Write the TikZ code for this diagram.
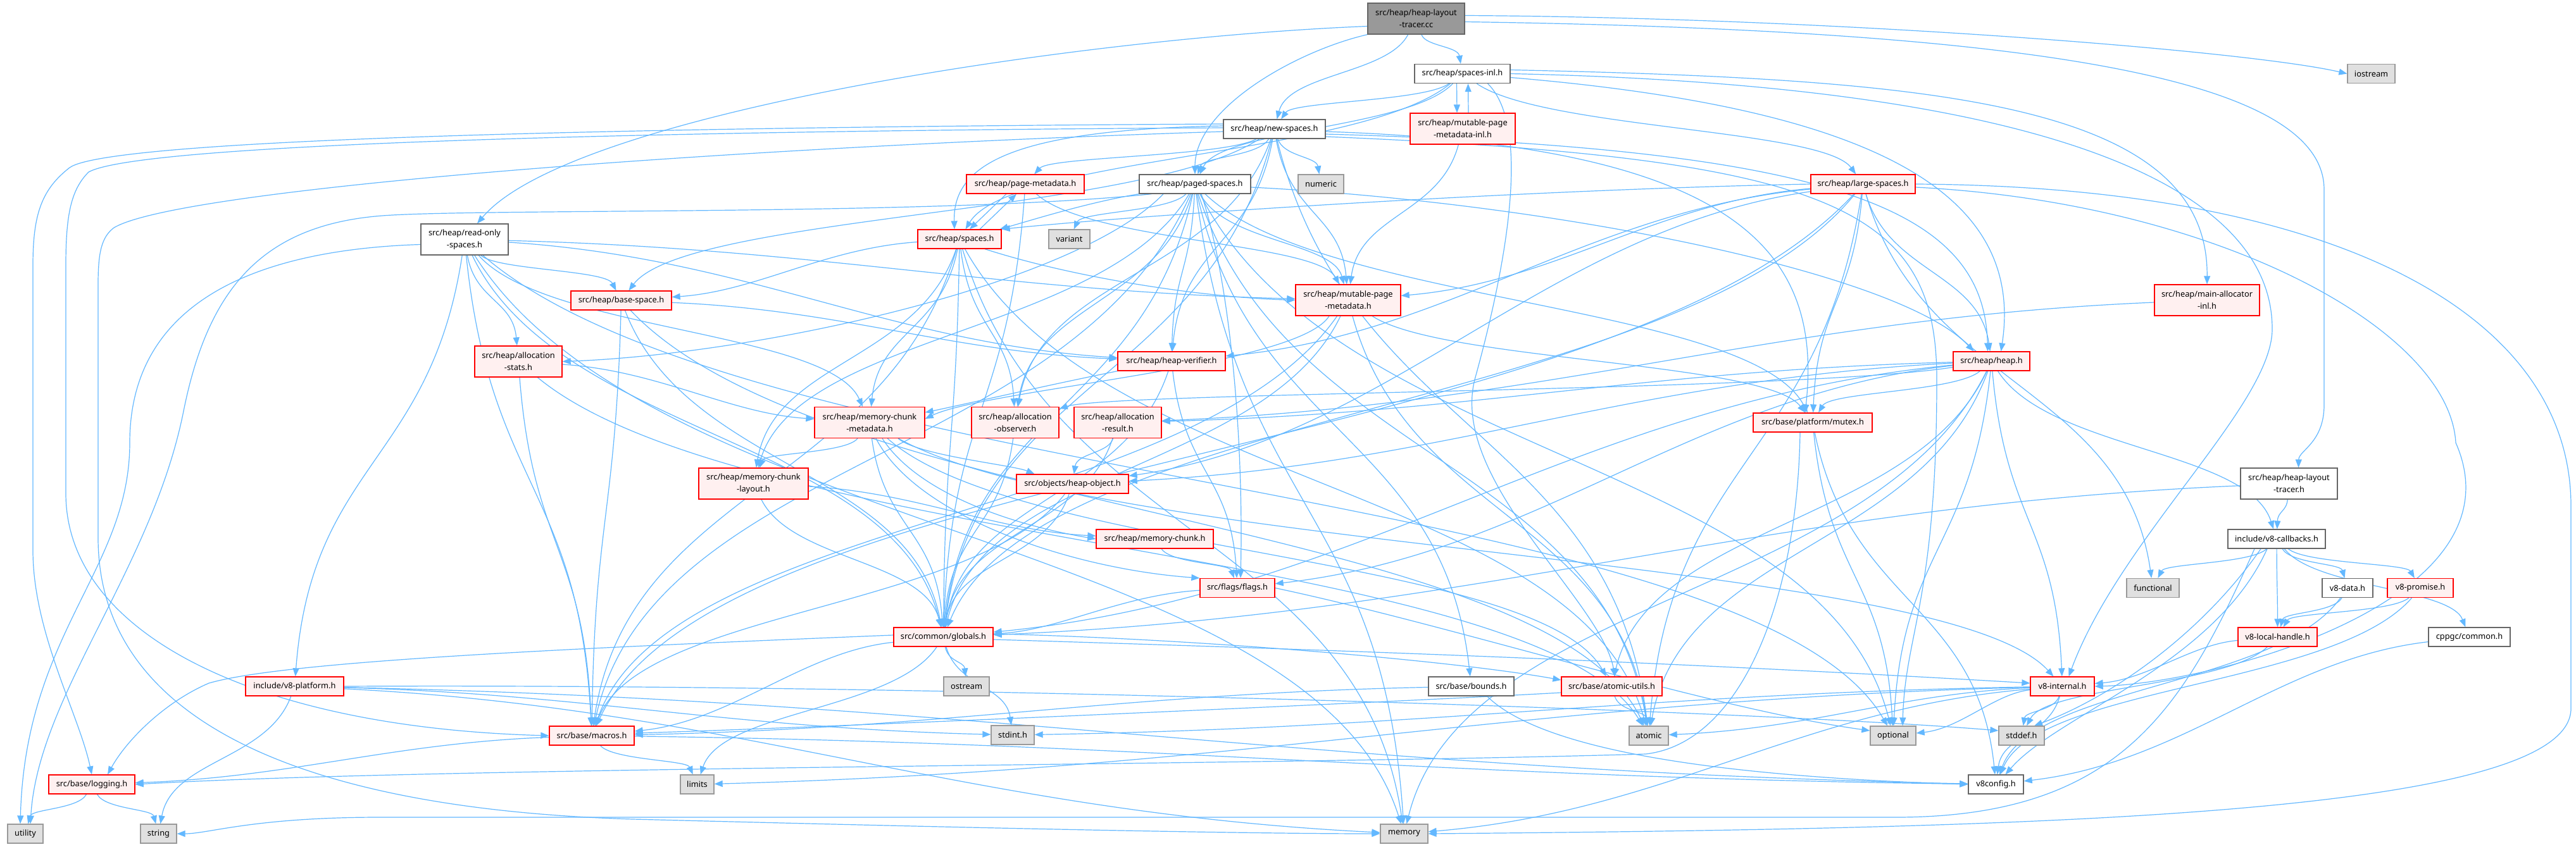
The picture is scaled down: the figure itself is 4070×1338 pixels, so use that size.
\documentclass[tikz,border=0pt]{standalone}
\usepackage{fontspec}
\setmainfont{Noto Sans}
\usetikzlibrary{arrows.meta}
\definecolor{edgeblue}{HTML}{63B8FF}
\definecolor{nred}{HTML}{FF0000}
\definecolor{nredfill}{HTML}{FFF0F0}
\definecolor{ngray}{HTML}{999999}
\definecolor{ngrayfill}{HTML}{E0E0E0}
\definecolor{ndark}{HTML}{666666}
\definecolor{nroot}{HTML}{999999}
\pgfdeclarelayer{bglayer}
\pgfdeclarelayer{edgelayer}
\pgfsetlayers{bglayer,edgelayer,main}
\newdimen\EXa \newdimen\EYa \newdimen\EXb \newdimen\EYb
\newdimen\EDx \newdimen\EDy \newdimen\EAx \newdimen\EAy
\newdimen\ECxa \newdimen\ECya \newdimen\ECxb \newdimen\ECyb
\newif\ifEhoriz
\newcount\Emode
\makeatletter
\newcommand\edcore[3]{%
  \pgfpointanchor{#2}{center}\EXa=\pgf@x \EYa=\pgf@y
  \pgfpointanchor{#3}{center}\EXb=\pgf@x \EYb=\pgf@y
  \EDx=\EXb \advance\EDx by -\EXa
  \EDy=\EYa \advance\EDy by -\EYb
  \EAx=\EDx \ifdim\EAx<0pt \EAx=-\EAx\fi
  \EAy=\EDy \ifdim\EAy<0pt \EAy=-\EAy\fi
  \EAy=3\EAy
  \Ehorizfalse
  \ifdim\EAx>\EAy \Ehoriztrue\fi
  \ifnum\Emode=1 \Ehorizfalse\fi
  \ifnum\Emode=2 \Ehoriztrue\fi
  \ifEhoriz
    \ECxa=\EXa \advance\ECxa by 0.4\EDx
    \ECya=\EYa \advance\ECya by -0.15\EDy
    \ECxb=\EXb \advance\ECxb by -0.4\EDx
    \ECyb=\EYb \advance\ECyb by 0.15\EDy
  \else
    \ECxa=\EXa \advance\ECxa by 0.2\EDx
    \ECya=\EYa \advance\ECya by -0.5\EDy
    \ECxb=\EXb \advance\ECxb by -0.1\EDx
    \ECyb=\EYb \advance\ECyb by 0.5\EDy
  \fi
  \draw[e,#1] (#2) .. controls (\the\ECxa,\the\ECya) and (\the\ECxb,\the\ECyb) .. (#3);%
}
\makeatother
\newcommand\ed[3][]{\Emode=0 \edcore{#1}{#2}{#3}}
\newcommand\edv[3][]{\Emode=1 \edcore{#1}{#2}{#3}}
\newcommand\edh[3][]{\Emode=2 \edcore{#1}{#2}{#3}}
\tikzset{
  nbase/.style={rectangle, inner sep=0pt, align=center, font=\fontsize{12.8}{19}\selectfont, minimum height=30pt, line width=1.3pt},
  rn/.style={nbase, draw=nred, fill=nredfill},
  wn/.style={nbase, draw=ndark, fill=white},
  gn/.style={nbase, draw=ngray, fill=ngrayfill},
  rootn/.style={nbase, draw=ndark, fill=nroot},
  tall/.style={minimum height=49pt},
  e/.style={draw=edgeblue, line width=1.2pt, -{Triangle[length=13pt,width=10pt]}},
}
\begin{document}
\begin{tikzpicture}[x=1pt,y=1pt]
\useasboundingbox (0,0) rectangle (4070,-1338);
\begin{pgfonlayer}{bglayer}
\fill[white] (0,0) rectangle (4070,-1338);
\end{pgfonlayer}
% ---------------- nodes ----------------
\node[rootn,tall,minimum width=153pt] (cc) at (2237.5,-29.5) {src/heap/heap-layout\\-tracer.cc};
\node[wn,minimum width=151pt] (si) at (2310.5,-116.5) {src/heap/spaces-inl.h};
\node[gn,minimum width=75pt] (ios) at (3746.5,-116.5) {iostream};
\node[wn,minimum width=161pt] (ns) at (2013.5,-204) {src/heap/new-spaces.h};
\node[rn,tall,minimum width=166pt] (mi) at (2311,-203.5) {src/heap/mutable-page\\-metadata-inl.h};
\node[wn,tall,minimum width=138pt] (ro) at (734,-378.5) {src/heap/read-only\\-spaces.h};
\node[rn,minimum width=186pt] (pm) at (1620,-291) {src/heap/page-metadata.h};
\node[wn,minimum width=176pt] (ps) at (1888,-291) {src/heap/paged-spaces.h};
\node[gn,minimum width=72pt] (num) at (2087,-291) {numeric};
\node[rn,minimum width=165pt] (lr) at (2943.5,-291) {src/heap/large-spaces.h};
\node[rn,minimum width=132pt] (sp) at (1516,-378) {src/heap/spaces.h};
\node[gn,minimum width=65pt] (var) at (1689.5,-378) {variant};
\node[rn,minimum width=159pt] (bs) at (981.5,-475) {src/heap/base-space.h};
\node[rn,tall,minimum width=166pt] (mpm) at (2130,-474.5) {src/heap/mutable-page\\-metadata.h};
\node[rn,tall,minimum width=166pt] (ma) at (3487,-474.5) {src/heap/main-allocator\\-inl.h};
\node[rn,tall,minimum width=138pt] (ast) at (819,-571.5) {src/heap/allocation\\-stats.h};
\node[rn,minimum width=170pt] (hv) at (1851,-571) {src/heap/heap-verifier.h};
\node[rn,minimum width=121pt] (hp) at (3146.5,-571) {src/heap/heap.h};
\node[rn,tall,minimum width=174pt] (mcm) at (1374,-668) {src/heap/memory-chunk\\-metadata.h};
\node[rn,tall,minimum width=138pt] (ao) at (1604,-668) {src/heap/allocation\\-observer.h};
\node[rn,tall,minimum width=138pt] (ar) at (1766,-668) {src/heap/allocation\\-result.h};
\node[rn,minimum width=188pt] (mx) at (2864,-668) {src/base/platform/mutex.h};
\node[rn,tall,minimum width=173pt] (mcl) at (1190.5,-764.5) {src/heap/memory-chunk\\-layout.h};
\node[rn,minimum width=177pt] (ho) at (1694.5,-765) {src/objects/heap-object.h};
\node[wn,tall,minimum width=153pt] (lh) at (3616.5,-764.5) {src/heap/heap-layout\\-tracer.h};
\node[wn,minimum width=154pt] (cb) at (3597,-852) {include/v8-callbacks.h};
\node[rn,minimum width=185pt] (mc) at (1824.5,-852) {src/heap/memory-chunk.h};
\node[rn,minimum width=118pt] (fl) at (1955,-929.5) {src/flags/flags.h};
\node[gn,minimum width=83pt] (fn) at (3401.5,-929.5) {functional};
\node[wn,minimum width=80pt] (vd) at (3709,-929.5) {v8-data.h};
\node[rn,minimum width=104pt] (vp) at (3824,-929.5) {v8-promise.h};
\node[rn,minimum width=157pt] (gl) at (1490.5,-1007) {src/common/globals.h};
\node[gn,minimum width=72pt] (os) at (1527,-1085) {ostream};
\node[rn,minimum width=125pt] (vl) at (3598.5,-1007) {v8-local-handle.h};
\node[wn,minimum width=129pt] (cg) at (3901.5,-1007) {cppgc/common.h};
\node[rn,minimum width=155pt] (vpl) at (465.5,-1085) {include/v8-platform.h};
\node[wn,minimum width=135pt] (bd) at (2324.5,-1085) {src/base/bounds.h};
\node[rn,minimum width=159pt] (au) at (2546.5,-1085) {src/base/atomic-utils.h};
\node[rn,minimum width=101pt] (vi) at (3258.5,-1085) {v8-internal.h};
\node[rn,minimum width=134pt] (mac) at (935,-1163) {src/base/macros.h};
\node[gn,minimum width=68pt] (si8) at (1600,-1162) {stdint.h};
\node[gn,minimum width=62pt] (atm) at (2605,-1163) {atomic};
\node[gn,minimum width=72pt] (op) at (2991,-1163) {optional};
\node[gn,minimum width=72pt] (sd) at (3194,-1163) {stddef.h};
\node[rn,minimum width=136pt] (lg) at (145,-1240) {src/base/logging.h};
\node[gn,minimum width=53pt] (lim) at (1101.5,-1240) {limits};
\node[wn,minimum width=87pt] (vc) at (3153.5,-1240) {v8config.h};
\node[gn,minimum width=56pt] (ut) at (40,-1318) {utility};
\node[gn,minimum width=57pt] (str) at (250.5,-1318) {string};
\node[gn,minimum width=75pt] (mem) at (2218.5,-1318) {memory};
% ---------------- edges ----------------
\begin{pgfonlayer}{edgelayer}
% heap-layout-tracer.cc
\ed{cc}{si}
\ed{cc}{ns}
\draw[e] ([yshift=5pt]cc.east) .. controls (2900,-28) and (3550,-80) .. (ios.west);
\draw[e] ([yshift=-5pt]cc.east) .. controls (3250,-48) and (3672,-130) .. (3672,-300) -- (3672,-640) .. controls (3672,-700) and (3632,-712) .. ([xshift=15pt]lh.north);
\draw[e] ([yshift=-12pt]cc.west) .. controls (1700,-60) and (900,-180) .. ([xshift=20pt]ro.north);
\draw[e] (cc.south west) .. controls (2050,-80) and (1888,-170) .. (ps.north);
% spaces-inl.h
\draw[e] ([xshift=-9pt]si.south) -- ([xshift=-9pt]mi.north);
\draw[e] ([xshift=9pt]mi.north) -- ([xshift=9pt]si.south);
\edv{si}{ns}
\edv{si}{ps}
\edv{si}{sp}
\edv{si}{lr}
\draw[e] ([xshift=40pt]si.south) .. controls (2420,-200) and (2380,-420) .. (2330,-600) .. controls (2290,-760) and (2530,-950) .. ([xshift=5pt]au.north);
\draw[e] ([yshift=-6pt]si.east) .. controls (2950,-170) and (3200,-300) .. ([xshift=15pt]hp.north);
\draw[e] ([yshift=6pt]si.east) .. controls (3050,-125) and (3490,-160) .. (ma.north);
\draw[e] (si.east) .. controls (3250,-135) and (3590,-300) .. (3590,-520) .. controls (3590,-640) and (3350,-850) .. ([xshift=10pt]vi.north);
% mutable-page-metadata-inl.h
\ed{mi}{mpm}
% new-spaces.h
\edv{ns}{ps}
\edv{ns}{pm}
\edv{ns}{num}
\edv{ns}{bs}
\ed{ns}{atm}
\ed{ns}{gl}
\ed{ns}{ao}
\ed{ns}{hv}
\ed{ns}{mpm}
\draw[e] ([yshift=5pt]ns.west) .. controls (1600,-205) and (1505,-260) .. ([xshift=-8pt]sp.north);
\draw[e] ([yshift=-8pt]ns.east) .. controls (2900,-235) and (3135,-330) .. ([xshift=-6pt]hp.north);
\draw[e] ([yshift=-4pt]ns.east) .. controls (2750,-230) and (2880,-400) .. ([xshift=-12pt]mx.north);
\draw[e] ([yshift=-12pt]ns.east) .. controls (2900,-250) and (3060,-330) .. (3060,-600) .. controls (3060,-950) and (3010,-1000) .. ([xshift=15pt]op.north);
\draw[e] ([yshift=8pt]ns.west) .. controls (1200,-200) and (180,-214) .. (110,-265) .. controls (65,-300) and (52,-340) .. (52,-420) -- (52,-870) .. controls (52,-1000) and (125,-1130) .. (lg.north);
\draw[e] ([yshift=2pt]ns.west) .. controls (1200,-206) and (230,-222) .. (140,-272) .. controls (112,-300) and (104,-340) .. (104,-420) -- (104,-780) .. controls (104,-1000) and (400,-1150) .. (mac.west);
\draw[e] ([yshift=-4pt]ns.west) .. controls (1100,-235) and (280,-300) .. (180,-360) .. controls (160,-375) and (155,-400) .. (155,-450) -- (155,-850) .. controls (155,-1150) and (500,-1280) .. (1000,-1295) .. controls (1500,-1308) and (1950,-1318) .. (mem.west);
% paged-spaces.h
\draw[e] (ps.south west) .. controls (1720,-320) and (1640,-345) .. ([xshift=-3pt]sp.north east);
\ed{ps}{var}
\draw[e] ([yshift=-5pt]ps.east) .. controls (2450,-320) and (3000,-430) .. ([xshift=-28pt]hp.north);
\ed{ps}{mpm}
\ed{ps}{hv}
\ed{ps}{ao}
\draw[e] ([xshift=-50pt]ps.south) .. controls (1700,-450) and (1200,-560) .. (ast.east);
\ed{ps}{mx}
\ed{ps}{mem}
\draw[e] ([xshift=10pt]ps.south) .. controls (1945,-450) and (1965,-700) .. ([xshift=5pt]fl.north);
\ed{ps}{atm}
\ed{ps}{op}
\ed{ps}{gl}
\ed{ps}{mac}
\ed{ps}{mcl}
\ed{ps}{bd}
\draw[e] ([xshift=20pt]ps.south west) .. controls (1500,-340) and (800,-330) .. (620,-340) .. controls (420,-350) and (330,-450) .. (290,-650) .. controls (240,-900) and (60,-1100) .. ([xshift=8pt]ut.north);
% large-spaces.h
\draw[e] (lr.west) .. controls (2400,-300) and (1800,-340) .. (sp.north east);
\ed{lr}{mpm}
\ed{lr}{hp}
\ed{lr}{mx}
\ed{lr}{fn}
\ed{lr}{atm}
\ed{lr}{gl}
\ed{lr}{mac}
\ed{lr}{hv}
\edh{lr}{ho}
\draw[e] ([yshift=-5pt]lr.east) .. controls (3500,-320) and (3870,-520) .. (3880,-700) .. controls (3990,-950) and (3500,-1080) .. (vi.east);
\draw[e] (lr.east) .. controls (3700,-295) and (4062,-500) .. (4062,-800) -- (4062,-1120) .. controls (4062,-1290) and (3200,-1310) .. (mem.east);
% spaces.h / page-metadata.h
\ed{sp}{bs}
\draw[e] ([xshift=-30pt]pm.south) -- ([xshift=16pt]sp.north);
\draw[e] ([xshift=32pt]sp.north) -- ([xshift=-14pt]pm.south);
\draw[e] ([xshift=40pt]sp.south) .. controls (1700,-440) and (1900,-470) .. (mpm.west);
\ed{sp}{mcl}
\ed{sp}{mcm}
\ed{sp}{ao}
\ed{sp}{gl}
\ed{sp}{mac}
\ed{sp}{atm}
\ed{sp}{mem}
\ed{pm}{mpm}
\ed{pm}{gl}
% base-space.h
\ed{bs}{hv}
\ed{bs}{gl}
\ed{bs}{mac}
\ed{bs}{atm}
% mutable-page-metadata.h
\edv{mpm}{mx}
\draw[e] ([xshift=-30pt]mpm.south) .. controls (2050,-580) and (1560,-615) .. ([yshift=6pt]mcm.east);
\ed{mpm}{gl}
\ed{mpm}{mac}
\ed{mpm}{atm}
% main-allocator-inl.h
\ed{ma}{ar}
% allocation-stats.h
\edv{ast}{atm}
\ed{ast}{mac}
\ed{ast}{mcm}
% heap-verifier.h
\draw[e] (hv.south west) .. controls (1650,-610) and (1520,-640) .. ([yshift=16pt]mcm.east);
\ed{hv}{fl}
\ed{hv}{gl}
% heap.h
\ed{hp}{ar}
\edv{hp}{ao}
\ed{hp}{mx}
\ed{hp}{ho}
\ed{hp}{gl}
\ed{hp}{au}
\ed{hp}{atm}
\ed{hp}{vi}
\ed{hp}{op}
\ed{hp}{mem}
\ed{hp}{cb}
\ed{hp}{fl}
% memory-chunk-metadata.h
\ed{mcm}{mcl}
\ed{mcm}{gl}
\draw[e] ([xshift=20pt]mcm.south) .. controls (1450,-780) and (1600,-830) .. (mc.west);
\draw[e] ([xshift=45pt]mcm.south) .. controls (1450,-720) and (1600,-735) .. ([xshift=-60pt]ho.north);
\draw[e] ([xshift=10pt]mcm.south) .. controls (1450,-820) and (1700,-900) .. (fl.north west);
\ed{mcm}{au}
\edv{mcm}{vi}
% allocation observer / result
\ed{ao}{gl}
\ed{ar}{ho}
\ed{ar}{gl}
% mutex.h
\ed{mx}{op}
\ed{mx}{vc}
\draw[e] ([xshift=-20pt]mx.south) .. controls (2840,-950) and (2750,-1175) .. (2600,-1192) .. controls (2000,-1210) and (700,-1212) .. (lg.east);
% memory-chunk-layout.h, heap-object.h, memory-chunk.h, flags.h
\ed{mcl}{gl}
\ed{mcl}{mc}
\ed{ho}{gl}
\ed{ho}{mac}
\ed{mc}{fl}
\ed{fl}{gl}
\draw[e] (fl.east) .. controls (2300,-990) and (2700,-1120) .. ([yshift=8pt]op.west);
% heap-layout-tracer.h
\ed{lh}{cb}
\ed{lh}{gl}
% v8-callbacks.h
\ed{cb}{fn}
\ed{cb}{vd}
\ed{cb}{vp}
\ed{cb}{cg}
\ed{cb}{vl}
\draw[e] ([xshift=-25pt]cb.south) .. controls (3480,-1000) and (3340,-1100) .. ([xshift=20pt]sd.north);
\draw[e] ([xshift=-15pt]cb.south) .. controls (3500,-1050) and (3250,-1130) .. ([xshift=15pt]vc.north);
\draw[e] ([xshift=-35pt]cb.south) .. controls (3450,-1120) and (3350,-1290) .. (3000,-1292) -- (600,-1292) .. controls (400,-1292) and (330,-1318) .. (str.east);
\ed{vd}{vl}
\ed{vd}{vc}
\ed{vp}{vl}
\ed{vp}{vc}
\ed{vl}{vi}
\ed{vl}{sd}
\ed{cg}{vc}
% globals.h
\ed{gl}{os}
\ed{gl}{si8}
\ed{gl}{lim}
\ed{gl}{mac}
\draw[e] ([yshift=3pt]gl.west) .. controls (900,-1025) and (450,-1045) .. (330,-1080) .. controls (260,-1110) and (200,-1170) .. ([xshift=25pt]lg.north);
\draw[e] ([yshift=5pt]gl.east) .. controls (1900,-1010) and (2300,-1045) .. ([yshift=10pt]au.west);
\draw[e] ([yshift=-4pt]gl.east) .. controls (2200,-1030) and (2700,-1050) .. ([yshift=5pt]vi.west);
% include/v8-platform.h
\ed{vpl}{str}
\ed{vpl}{si8}
\ed{vpl}{mem}
\ed{vpl}{vc}
\draw[e] (vpl.east) .. controls (1500,-1080) and (2800,-1125) .. ([yshift=8pt]sd.west);
% bounds, atomic-utils
\ed{bd}{mac}
\draw[e] ([xshift=25pt]bd.south) .. controls (2450,-1200) and (2800,-1230) .. (vc.west);
\ed{au}{atm}
\draw[e] ([yshift=-10pt]au.west) .. controls (2200,-1110) and (1300,-1150) .. ([yshift=4pt]mac.east);
% v8-internal.h
\ed{vi}{sd}
\ed{vi}{si8}
\ed{vi}{atm}
\ed{vi}{op}
\ed{vi}{lim}
\ed{vi}{mem}
\ed{vi}{vc}
% macros.h, logging.h
\ed{mac}{lg}
\ed{mac}{lim}
\ed{mac}{vc}
\ed{lg}{ut}
\ed{lg}{str}
% read-only-spaces.h
\ed{ro}{bs}
\ed{ro}{ast}
\draw[e] ([yshift=-8pt]ro.west) .. controls (400,-395) and (205,-480) .. (205,-700) .. controls (205,-900) and (40,-1000) .. ([xshift=-8pt]ut.north);
\ed{ro}{vpl}
\ed{ro}{mac}
\ed{ro}{gl}
\ed{ro}{mcm}
\ed{ro}{hv}
\ed{ro}{mpm}
\ed{ro}{mem}
\ed{ro}{op}
\end{pgfonlayer}
\end{tikzpicture}
\end{document}
